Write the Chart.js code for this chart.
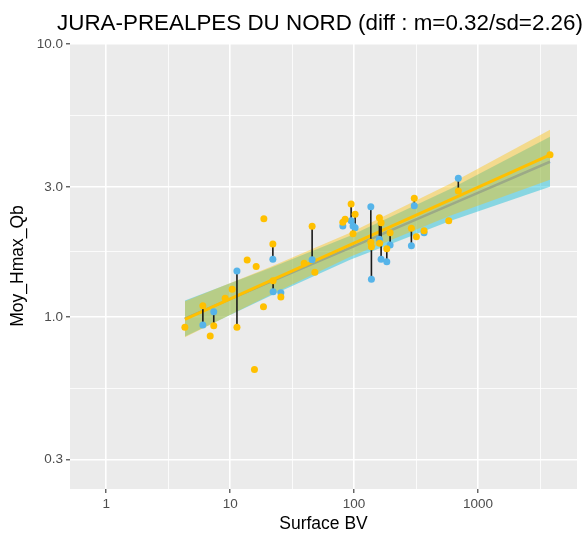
<!DOCTYPE html>
<html>
<head>
<meta charset="utf-8">
<script src="https://cdn.jsdelivr.net/npm/chart.js@4"></script>
<style>
  html, body { margin: 0; padding: 0; background: #fff; }
  #wrap { width: 585px; height: 540px; }
</style>
</head>
<body>
<div id="wrap"><canvas id="graph" width="585" height="540"></canvas></div>
<script>
// stations avec les deux valeurs (reliées par un trait noir)
const surfPaires = [6.02, 7.37, 11.34, 22.1, 22.2, 25.64, 45.84, 81.1, 94.6, 98.0, 101.9, 136.4, 137.9, 160.0, 165.1, 183.5, 195.2, 289.8, 305.8, 366.8, 693];
const hmaxJaune = [1.100, 0.929, 0.917, 1.851, 1.358, 1.184, 2.149, 2.223, 2.594, 2.019, 2.378, 1.878, 1.809, 2.311, 2.215, 1.779, 2.036, 2.113, 2.722, 2.071, 2.894];
const hmaxBleu = [0.935, 1.046, 1.474, 1.627, 1.238, 1.227, 1.622, 2.154, 2.253, 2.154, 2.124, 2.535, 1.374, 1.926, 1.627, 1.594, 1.835, 1.825, 2.557, 2.036, 3.223];

// stations avec seulement la valeur jaune
const surfSeules = [4.31, 6.90, 9.11, 10.38, 13.71, 15.70, 16.21, 18.56, 18.70, 39.53, 48.2, 84.6, 160.6, 318.0, 580, 3807];
const hmaxSeules = [0.917, 0.852, 1.171, 1.263, 1.618, 0.642, 1.533, 1.091, 2.292, 1.573, 1.458, 2.280, 1.862, 1.968, 2.253, 3.930];

// droites de régression + intervalles de confiance
const fitSurf = [4.31, 21.0, 92.9, 595, 3807];
const fitJaune = [0.981, 1.356, 1.838, 2.688, 3.93];
const hautJaune = [1.142, 1.526, 2.034, 3.075, 4.856];
const basJaune = [0.843, 1.205, 1.662, 2.348, 3.184];
const fitBleu = [0.987, 1.344, 1.793, 2.574, 3.706];
const hautBleu = [1.149, 1.512, 1.983, 2.946, 4.576];
const basBleu = [0.848, 1.194, 1.620, 2.249, 3.002];

// graduations
const ticksX = [1, 10, 100, 1000];
const minorX = [3.162, 31.62, 316.2, 3162];
const ticksY = [0.3, 1, 3, 10];
const minorY = [0.5477, 1.732, 5.477];

const titre = 'JURA-PREALPES DU NORD (diff : m=0.32/sd=2.26)';

const JAUNE = '#FFC000';
const BLEU = '#56B4E9';
const POLICE = '"Liberation Sans", Arial, sans-serif';

function pts(xs, ys) {
    return xs.map((x, i) => ({ x: x, y: ys[i] }));
}

// segments verticaux : une paire puis un trou
const segments = [];
surfPaires.forEach((x, i) => {
    segments.push({ x: x, y: hmaxBleu[i] });
    segments.push({ x: x, y: hmaxJaune[i] });
    segments.push({ x: x, y: null });
});

const fondPanneau = {
    id: 'fondPanneau',
    beforeDraw(chart) {
        const { ctx, chartArea: a } = chart;
        ctx.save();
        ctx.fillStyle = '#EBEBEB';
        ctx.fillRect(a.left, a.top, a.right - a.left, a.bottom - a.top);
        ctx.restore();
    },
    afterDraw(chart) {
        const ctx = chart.ctx;
        ctx.save();
        ctx.font = '22.4px ' + POLICE;
        ctx.fillStyle = '#000';
        ctx.textAlign = 'center';
        ctx.textBaseline = 'alphabetic';
        ctx.fillText(titre, 320, 30);
        ctx.restore();
    }
};

const estMajeur = (liste, v) => liste.some(t => Math.abs(t - v) / t < 1e-6);

new Chart(document.getElementById('graph'), {
    type: 'scatter',
    data: {
        datasets: [
            {
                label: 'jaune',
                data: pts(surfPaires, hmaxJaune).concat(pts(surfSeules, hmaxSeules)),
                backgroundColor: JAUNE,
                borderWidth: 0,
                pointRadius: 3.5,
                order: 0
            },
            {
                label: 'bleu',
                data: pts(surfPaires, hmaxBleu),
                backgroundColor: BLEU,
                borderWidth: 0,
                pointRadius: 3.5,
                order: 1
            },
            {
                label: 'ecart',
                data: segments,
                showLine: true,
                spanGaps: false,
                borderColor: '#1a1a1a',
                borderWidth: 1.6,
                pointRadius: 0,
                order: 2
            },
            {
                label: 'fit jaune',
                data: pts(fitSurf, fitJaune),
                showLine: true,
                borderColor: JAUNE,
                borderWidth: 3,
                pointRadius: 0,
                order: 3
            },
            {
                label: 'IC jaune haut',
                data: pts(fitSurf, hautJaune),
                showLine: true,
                borderWidth: 0,
                borderColor: 'rgba(0,0,0,0)',
                backgroundColor: 'rgba(255,192,0,0.4)',
                fill: '+1',
                pointRadius: 0,
                order: 4
            },
            {
                label: 'IC jaune bas',
                data: pts(fitSurf, basJaune),
                showLine: true,
                borderWidth: 0,
                borderColor: 'rgba(0,0,0,0)',
                pointRadius: 0,
                order: 5
            },
            {
                label: 'fit bleu',
                data: pts(fitSurf, fitBleu),
                showLine: true,
                borderColor: '#5A9BE0',
                borderWidth: 2.5,
                pointRadius: 0,
                order: 6
            },
            {
                label: 'IC bleu haut',
                data: pts(fitSurf, hautBleu),
                showLine: true,
                borderWidth: 0,
                borderColor: 'rgba(0,0,0,0)',
                backgroundColor: 'rgba(0,185,215,0.42)',
                fill: '+1',
                pointRadius: 0,
                order: 7
            },
            {
                label: 'IC bleu bas',
                data: pts(fitSurf, basBleu),
                showLine: true,
                borderWidth: 0,
                borderColor: 'rgba(0,0,0,0)',
                pointRadius: 0,
                order: 8
            }
        ]
    },
    options: {
        responsive: false,
        animation: false,
        layout: { padding: { left: 0, right: 8, top: 43, bottom: 0 } },
        plugins: {
            legend: { display: false },
            tooltip: { enabled: false }
        },
        scales: {
            x: {
                type: 'logarithmic',
                min: 0.51,
                max: 6286,
                afterBuildTicks(scale) {
                    scale.ticks = ticksX.concat(minorX).sort((a, b) => a - b).map(v => ({ value: v }));
                },
                afterFit(scale) { scale.height = 51; },
                ticks: {
                    autoSkip: false,
                    maxRotation: 0,
                    padding: 3,
                    color: '#4D4D4D',
                    font: { family: POLICE, size: 13.5 },
                    callback: v => estMajeur(ticksX, v) ? String(v) : ''
                },
                grid: {
                    color: '#FFFFFF',
                    lineWidth: c => estMajeur(ticksX, c.tick.value) ? 1.6 : 0.8,
                    tickColor: c => estMajeur(ticksX, c.tick.value) ? '#333333' : 'rgba(0,0,0,0)',
                    tickLength: 4,
                    tickWidth: 1.1
                },
                border: { display: false },
                title: {
                    display: true,
                    text: 'Surface BV',
                    color: '#000',
                    font: { family: POLICE, size: 17.5 },
                    padding: { top: 0, bottom: 5 }
                }
            },
            y: {
                type: 'logarithmic',
                min: 0.2344,
                max: 10.09,
                afterBuildTicks(scale) {
                    scale.ticks = ticksY.concat(minorY).sort((a, b) => a - b).map(v => ({ value: v }));
                },
                afterFit(scale) { scale.width = 70; },
                ticks: {
                    autoSkip: false,
                    padding: 3,
                    color: '#4D4D4D',
                    font: { family: POLICE, size: 13.5 },
                    callback: v => estMajeur(ticksY, v) ? v.toFixed(1) : ''
                },
                grid: {
                    color: '#FFFFFF',
                    lineWidth: c => estMajeur(ticksY, c.tick.value) ? 1.6 : 0.8,
                    tickColor: c => estMajeur(ticksY, c.tick.value) ? '#333333' : 'rgba(0,0,0,0)',
                    tickLength: 4,
                    tickWidth: 1.1
                },
                border: { display: false },
                title: {
                    display: true,
                    text: 'Moy_Hmax_Qb',
                    color: '#000',
                    font: { family: POLICE, size: 17.5 },
                    padding: { top: 8, bottom: 0 }
                }
            }
        }
    },
    plugins: [fondPanneau]
});
</script>
</body>
</html>
